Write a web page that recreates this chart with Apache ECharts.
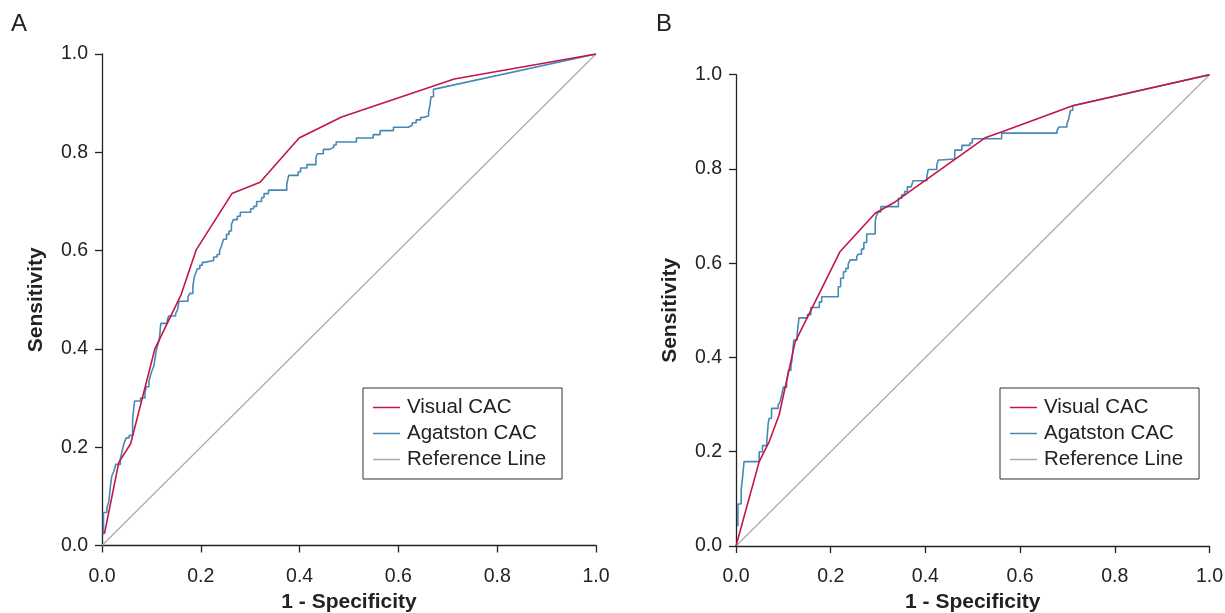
<!DOCTYPE html>
<html>
<head>
<meta charset="utf-8">
<script src="https://cdn.jsdelivr.net/npm/echarts@6/dist/echarts.min.js"></script>
<style>
html,body{margin:0;padding:0;background:#fff;overflow:hidden;width:1225px;height:613px;}
#chart{width:1225px;height:613px;}
</style>
</head>
<body>
<div id="chart"></div>
<script>
var seriesNames = ['Visual CAC', 'Agatston CAC', 'Reference Line'];
var tickValues = [0, 0.2, 0.4, 0.6, 0.8, 1.0];
var tickLabels = ['0.0', '0.2', '0.4', '0.6', '0.8', '1.0'];
var panelLabels = ['A', 'B'];
var xAxisTitle = '1 - Specificity';
var yAxisTitle = 'Sensitivity';

var referenceLine = [[0, 0], [1, 1]];

var visualA = [[0.005,0.024],[0.034,0.169],[0.058,0.207],[0.107,0.400],[0.160,0.510],[0.191,0.602],[0.263,0.716],[0.320,0.739],[0.399,0.829],[0.485,0.872],[0.713,0.949],[1,1]];

var agatstonA = [[0.003,0.022],[0.003,0.067],[0.010,0.067],[0.010,0.077],[0.014,0.077],[0.014,0.090],[0.017,0.090],[0.017,0.121],[0.020,0.121],[0.020,0.142],[0.024,0.142],[0.024,0.151],[0.028,0.151],[0.028,0.165],[0.037,0.165],[0.037,0.175],[0.040,0.175],[0.040,0.189],[0.043,0.189],[0.043,0.202],[0.045,0.202],[0.045,0.209],[0.049,0.209],[0.049,0.219],[0.055,0.219],[0.055,0.224],[0.062,0.224],[0.062,0.258],[0.066,0.258],[0.066,0.294],[0.078,0.294],[0.078,0.300],[0.087,0.300],[0.087,0.312],[0.090,0.312],[0.090,0.323],[0.095,0.323],[0.095,0.334],[0.098,0.334],[0.098,0.346],[0.102,0.346],[0.102,0.358],[0.105,0.358],[0.105,0.365],[0.109,0.365],[0.109,0.392],[0.112,0.392],[0.112,0.405],[0.116,0.405],[0.116,0.419],[0.119,0.419],[0.119,0.452],[0.132,0.452],[0.132,0.458],[0.135,0.458],[0.135,0.467],[0.149,0.467],[0.149,0.472],[0.153,0.472],[0.153,0.480],[0.156,0.480],[0.156,0.497],[0.174,0.497],[0.174,0.506],[0.178,0.506],[0.178,0.513],[0.184,0.513],[0.184,0.528],[0.187,0.528],[0.187,0.547],[0.190,0.547],[0.190,0.555],[0.193,0.555],[0.193,0.563],[0.198,0.563],[0.198,0.570],[0.203,0.570],[0.203,0.576],[0.208,0.576],[0.208,0.580],[0.226,0.580],[0.226,0.587],[0.233,0.587],[0.233,0.592],[0.238,0.592],[0.238,0.599],[0.242,0.599],[0.242,0.610],[0.246,0.610],[0.246,0.623],[0.252,0.623],[0.252,0.633],[0.257,0.633],[0.257,0.640],[0.262,0.640],[0.262,0.653],[0.266,0.653],[0.266,0.663],[0.274,0.663],[0.274,0.670],[0.280,0.670],[0.280,0.678],[0.301,0.678],[0.301,0.685],[0.307,0.685],[0.307,0.690],[0.313,0.690],[0.313,0.700],[0.323,0.700],[0.323,0.708],[0.328,0.708],[0.328,0.716],[0.337,0.716],[0.337,0.723],[0.374,0.723],[0.374,0.735],[0.378,0.735],[0.378,0.753],[0.397,0.753],[0.397,0.760],[0.402,0.760],[0.402,0.768],[0.415,0.768],[0.415,0.775],[0.433,0.775],[0.433,0.790],[0.436,0.790],[0.436,0.797],[0.448,0.797],[0.448,0.806],[0.461,0.806],[0.461,0.810],[0.469,0.810],[0.469,0.815],[0.474,0.815],[0.474,0.821],[0.515,0.821],[0.515,0.829],[0.549,0.829],[0.549,0.836],[0.563,0.836],[0.563,0.844],[0.590,0.844],[0.590,0.851],[0.620,0.851],[0.620,0.855],[0.628,0.855],[0.628,0.860],[0.636,0.860],[0.636,0.866],[0.645,0.866],[0.645,0.871],[0.650,0.871],[0.650,0.874],[0.661,0.874],[0.661,0.880],[0.664,0.880],[0.664,0.897],[0.666,0.897],[0.666,0.913],[0.671,0.913],[0.671,0.928],[1,1]];

var visualB = [[0,0],[0.049,0.179],[0.070,0.221],[0.091,0.278],[0.125,0.433],[0.220,0.625],[0.294,0.706],[0.336,0.730],[0.526,0.866],[0.565,0.880],[0.711,0.934],[1,1]];

var agatstonB = [[0.004,0.042],[0.004,0.089],[0.011,0.089],[0.011,0.120],[0.014,0.120],[0.014,0.147],[0.017,0.147],[0.017,0.179],[0.049,0.179],[0.049,0.200],[0.056,0.200],[0.056,0.213],[0.065,0.213],[0.065,0.221],[0.068,0.221],[0.068,0.260],[0.070,0.260],[0.070,0.271],[0.075,0.271],[0.075,0.292],[0.089,0.292],[0.089,0.299],[0.093,0.299],[0.093,0.306],[0.097,0.306],[0.097,0.323],[0.100,0.323],[0.100,0.337],[0.107,0.337],[0.107,0.349],[0.111,0.349],[0.111,0.373],[0.116,0.373],[0.116,0.382],[0.118,0.382],[0.118,0.393],[0.122,0.393],[0.122,0.437],[0.129,0.437],[0.129,0.448],[0.133,0.448],[0.133,0.484],[0.151,0.484],[0.151,0.491],[0.158,0.491],[0.158,0.506],[0.176,0.506],[0.176,0.518],[0.181,0.518],[0.181,0.529],[0.216,0.529],[0.216,0.550],[0.221,0.550],[0.221,0.568],[0.227,0.568],[0.227,0.582],[0.232,0.582],[0.232,0.589],[0.237,0.589],[0.237,0.598],[0.241,0.598],[0.241,0.607],[0.255,0.607],[0.255,0.614],[0.258,0.614],[0.258,0.619],[0.265,0.619],[0.265,0.630],[0.270,0.630],[0.270,0.644],[0.276,0.644],[0.276,0.662],[0.294,0.662],[0.294,0.688],[0.296,0.688],[0.296,0.699],[0.300,0.699],[0.300,0.709],[0.306,0.709],[0.306,0.720],[0.343,0.720],[0.343,0.738],[0.350,0.738],[0.350,0.745],[0.356,0.745],[0.356,0.752],[0.362,0.752],[0.362,0.762],[0.370,0.762],[0.370,0.766],[0.374,0.766],[0.374,0.775],[0.403,0.775],[0.403,0.784],[0.406,0.784],[0.406,0.799],[0.424,0.799],[0.424,0.808],[0.427,0.808],[0.427,0.819],[0.432,0.819],[0.432,0.821],[0.462,0.821],[0.462,0.840],[0.477,0.840],[0.477,0.850],[0.494,0.850],[0.494,0.855],[0.499,0.855],[0.499,0.864],[0.561,0.864],[0.561,0.876],[0.678,0.876],[0.678,0.882],[0.682,0.882],[0.682,0.889],[0.699,0.889],[0.699,0.896],[0.703,0.896],[0.703,0.907],[0.706,0.907],[0.706,0.924],[0.711,0.924],[0.711,0.934],[1,1]];

var FONT = 'Liberation Sans, Arial, Helvetica, sans-serif';
var RED = '#c4154b';
var BLUE = '#4689b4';
var GREY = '#aaaaaa';
var TEXT = '#222222';

function fmt(v) {
  var i = tickValues.indexOf(Math.round(v * 10) / 10);
  return i >= 0 ? tickLabels[i] : v.toFixed(1);
}

function makeAxis(idx, isX) {
  return {
    type: 'value', gridIndex: idx, min: 0, max: 1, interval: 0.2,
    name: isX ? xAxisTitle : yAxisTitle,
    nameLocation: 'middle',
    nameGap: isX ? 43 : 55,
    nameTextStyle: { fontFamily: FONT, fontSize: 21, fontWeight: 'bold', color: TEXT },
    axisLine: { show: true, onZero: false, lineStyle: { color: '#222', width: 1.3 } },
    axisTick: { show: true, inside: false, length: 7, lineStyle: { color: '#222', width: 1.3 } },
    axisLabel: { fontFamily: FONT, fontSize: 19.5, color: TEXT, margin: isX ? 21 : 14, formatter: fmt },
    splitLine: { show: false }
  };
}

function makeLegend(left, top) {
  return {
    left: left, top: top, orient: 'vertical',
    data: seriesNames,
    icon: 'rect', itemWidth: 27, itemHeight: 1.5, itemGap: 5,
    borderColor: '#333', borderWidth: 1, padding: [9, 16, 9, 10],
    textStyle: { fontFamily: FONT, fontSize: 20.5, color: TEXT, padding: [0, 0, 0, 2] },
    selectedMode: false
  };
}

function lineSeries(name, data, color, idx, width, z) {
  return {
    name: name, type: 'line', data: data, xAxisIndex: idx, yAxisIndex: idx,
    showSymbol: false, symbol: 'none', smooth: false, animation: false,
    lineStyle: { color: color, width: width }, itemStyle: { color: color }, z: z
  };
}

var chart = echarts.init(document.getElementById('chart'), null, { renderer: 'canvas', width: 1225, height: 613 });
chart.setOption({
  backgroundColor: '#fff',
  animation: false,
  grid: [
    { left: 102, top: 54, width: 494, height: 491.5, containLabel: false, outerBoundsMode: 'none' },
    { left: 736, top: 74.7, width: 473.5, height: 471.3, containLabel: false, outerBoundsMode: 'none' }
  ],
  xAxis: [makeAxis(0, true), makeAxis(1, true)],
  yAxis: [makeAxis(0, false), makeAxis(1, false)],
  legend: [makeLegend(363, 388), makeLegend(1000, 388)],
  graphic: [
    { type: 'text', left: 11, top: 12, style: { text: panelLabels[0], font: '24px ' + FONT, fill: TEXT } },
    { type: 'text', left: 656, top: 12, style: { text: panelLabels[1], font: '24px ' + FONT, fill: TEXT } }
  ],
  series: [
    lineSeries(seriesNames[2], referenceLine, GREY, 0, 1.2, 1),
    lineSeries(seriesNames[1], agatstonA, BLUE, 0, 1.6, 2),
    lineSeries(seriesNames[0], visualA, RED, 0, 1.6, 3),
    lineSeries(seriesNames[2], referenceLine, GREY, 1, 1.2, 1),
    lineSeries(seriesNames[1], agatstonB, BLUE, 1, 1.6, 2),
    lineSeries(seriesNames[0], visualB, RED, 1, 1.6, 3)
  ]
});
</script>
</body>
</html>
